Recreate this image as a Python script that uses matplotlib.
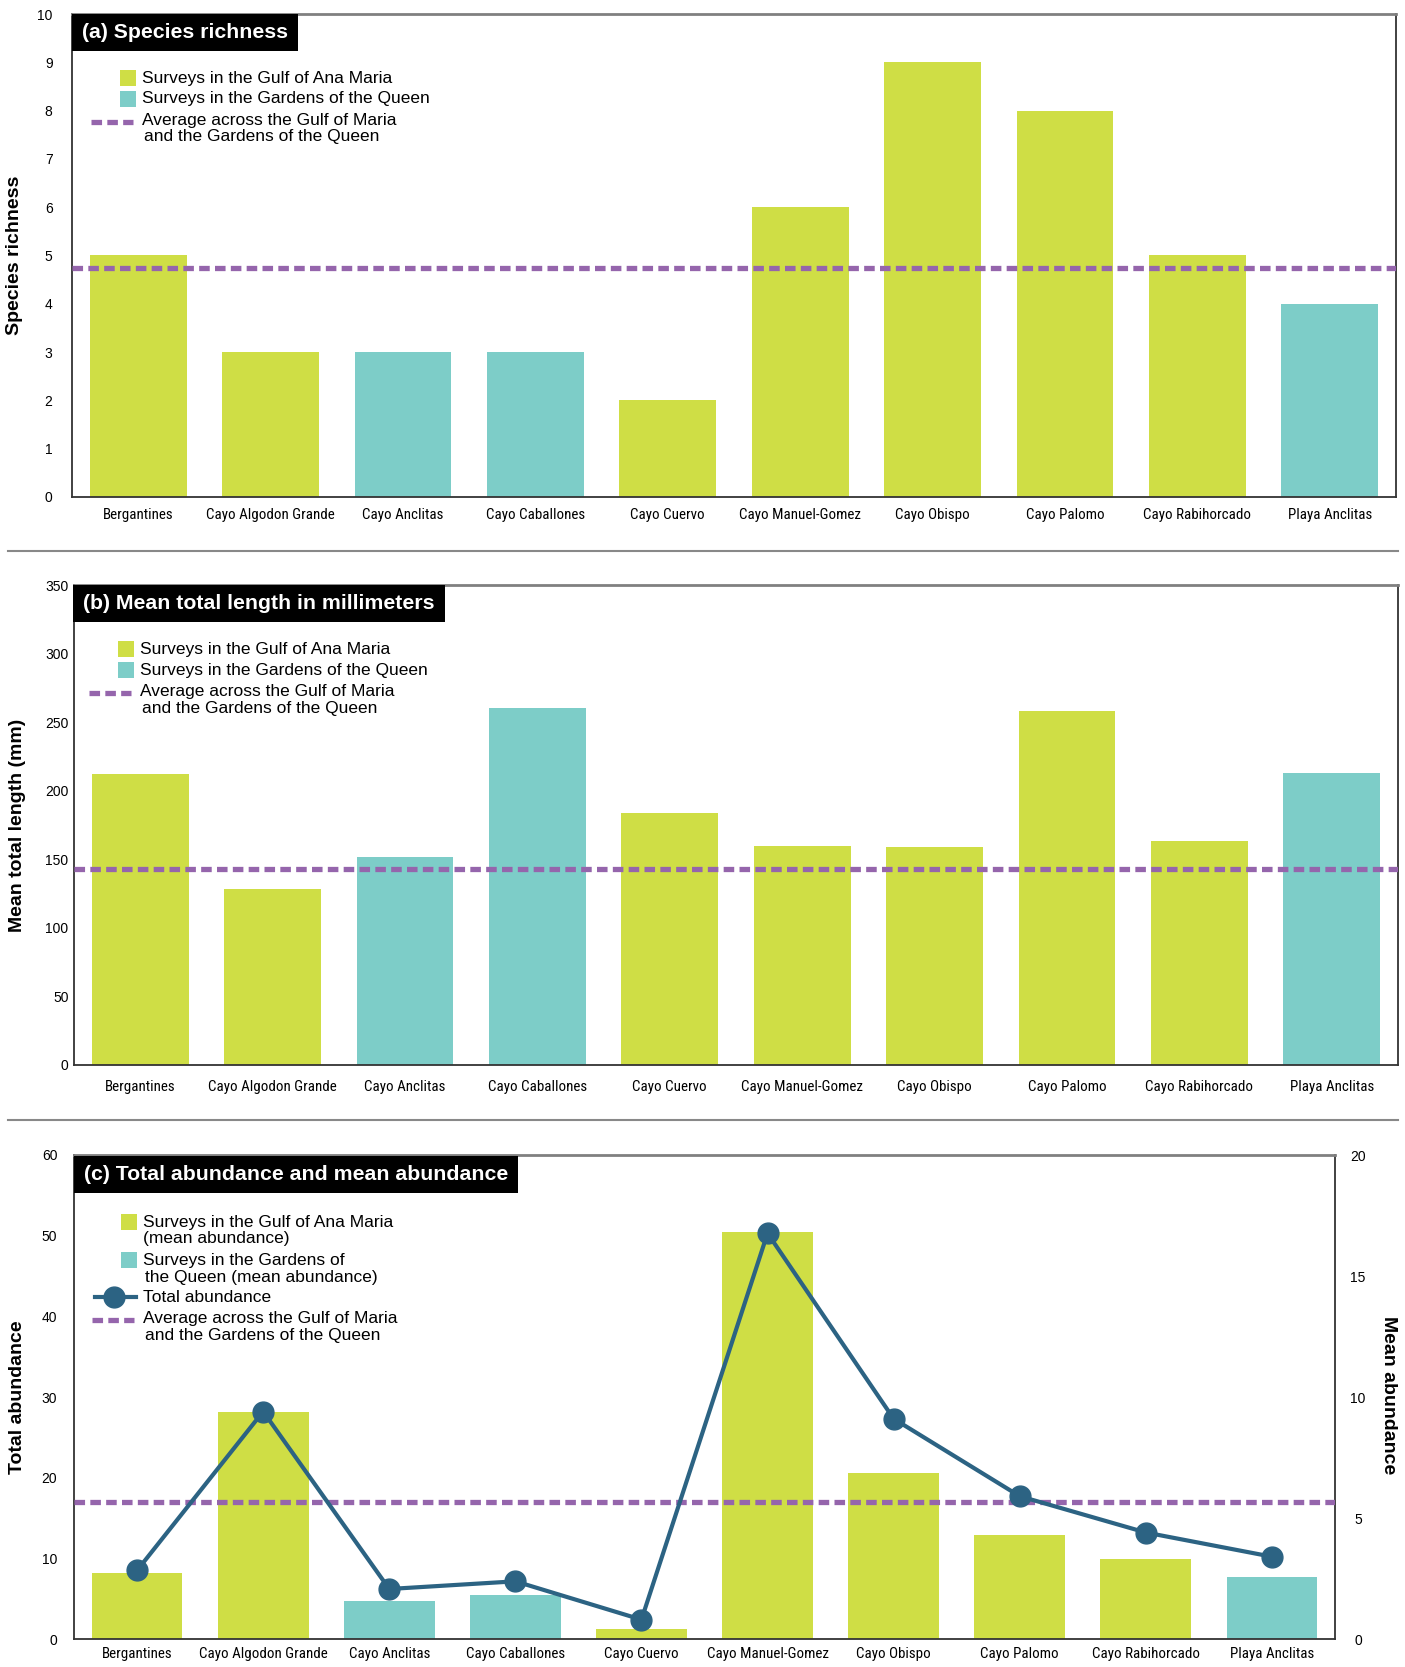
import numpy as np
import matplotlib
matplotlib.use("Agg")
import matplotlib.pyplot as plt
from matplotlib import font_manager
from matplotlib.patches import Rectangle
from matplotlib.lines import Line2D

plt.rcParams['font.family'] = ['Liberation Sans', 'DejaVu Sans']

# condensed face for the site names if one is installed, else a smaller regular face
_installed = {f.name for f in font_manager.fontManager.ttflist}
NARROW, NARROW_SIZE = ['Liberation Sans', 'DejaVu Sans'], 9.8
for _name in ['Liberation Sans Narrow', 'Roboto Condensed', 'Open Sans Condensed']:
    if _name in _installed:
        NARROW, NARROW_SIZE = [_name, 'DejaVu Sans'], 10.8
        break

# ---- data ----
sites = ['Bergantines', 'Cayo Algodon Grande', 'Cayo Anclitas', 'Cayo Caballones',
         'Cayo Cuervo', 'Cayo Manuel-Gomez', 'Cayo Obispo', 'Cayo Palomo',
         'Cayo Rabihorcado', 'Playa Anclitas']
region = ['gulf', 'gulf', 'garden', 'garden', 'gulf', 'gulf', 'gulf', 'gulf', 'gulf', 'garden']

richness = [5, 3, 3, 3, 2, 6, 9, 8, 5, 4]
richness_avg = 4.75

length_mm = [212, 128, 152, 260, 184, 160, 159, 258, 163, 213]
length_avg = 143

mean_abund = [2.74, 9.4, 1.59, 1.81, 0.4, 16.8, 6.84, 4.28, 3.31, 2.56]
total_abund = [8.5, 28.2, 6.2, 7.15, 2.4, 50.3, 27.3, 17.7, 13.2, 10.2]
abund_avg = 17.0

# ---- style ----
W, H = 1405, 1667
LIME = '#CFDE45'
TEAL = '#7DCDC8'
PURPLE = '#9565AC'
NAVY = '#2C6383'
bar_colors = [LIME if r == 'gulf' else TEAL for r in region]
x = np.arange(len(sites))

fig = plt.figure(figsize=(W / 100, H / 100), dpi=100)


def fx(px):
    return px / W


def fy(py):
    return 1 - py / H


def add_axes(l, t, r, b):
    return fig.add_axes([fx(l), fy(b), (r - l) / W, (b - t) / H])


def style(ax, xpad, ypad):
    ax.set_xlim(-0.5, 9.5)
    ax.set_xticks(x)
    ax.set_xticklabels(sites, family=NARROW, fontsize=NARROW_SIZE)
    ax.tick_params(axis='both', length=0)
    ax.tick_params(axis='x', pad=xpad)
    ax.tick_params(axis='y', pad=ypad, labelsize=10)
    for s in ['left', 'bottom', 'right']:
        ax.spines[s].set_color('#333333')
        ax.spines[s].set_linewidth(1.3)
    ax.spines['top'].set_color('#808080')
    ax.spines['top'].set_linewidth(2)


def title_box(left, top, text):
    t = fig.text(fx(left + 10), fy(top + 18.5), text, color='white', fontsize=15.3,
                 fontweight='bold', ha='left', va='center', zorder=11)
    fig.canvas.draw()
    bb = t.get_window_extent()
    right = bb.x1 + 10
    fig.add_artist(Rectangle((fx(left), fy(top + 37)), (right - left) / W, 37 / H,
                             transform=fig.transFigure, facecolor='black',
                             edgecolor='none', zorder=10))


def legend_text(xp, yp, s):
    fig.text(fx(xp), fy(yp), s, fontsize=12.5, ha='left', va='center', zorder=11)


def legend_square(x0, yp, color):
    fig.add_artist(Rectangle((fx(x0), fy(yp + 8)), 16 / W, 16 / H,
                             transform=fig.transFigure, facecolor=color,
                             edgecolor='none', zorder=11))


def legend_dash(x0, x1, yp):
    fig.add_artist(Line2D([fx(x0), fx(x1)], [fy(yp), fy(yp)], transform=fig.transFigure,
                          color=PURPLE, lw=3.8, dashes=(2.0, 1.0), zorder=11))


def avg_line(ax, val):
    ax.axhline(val, color=PURPLE, lw=3.8, dashes=(2.0, 1.0), zorder=3)


# ==========================
# (a) Species richness
# ==========================
axA = add_axes(72, 14, 1396, 497)
axA.bar(x, richness, width=0.73, color=bar_colors, zorder=2)
avg_line(axA, richness_avg)
axA.set_ylim(0, 10)
axA.set_yticks(range(0, 11))
style(axA, xpad=8, ypad=14)
fig.text(fx(15), fy(255), 'Species richness', rotation=90, fontsize=14,
         fontweight='bold', ha='center', va='center')
title_box(72, 14, '(a) Species richness')
top = 14
legend_square(120, top + 64, LIME)
legend_text(142, top + 64, 'Surveys in the Gulf of Ana Maria')
legend_square(120, top + 85, TEAL)
legend_text(142, top + 85, 'Surveys in the Gardens of the Queen')
legend_dash(91, 133, top + 108)
legend_text(142, top + 106, 'Average across the Gulf of Maria')
legend_text(144, top + 123, 'and the Gardens of the Queen')

# ==========================
# (b) Mean total length
# ==========================
axB = add_axes(74, 585, 1398, 1065)
axB.bar(x, length_mm, width=0.73, color=bar_colors, zorder=2)
avg_line(axB, length_avg)
axB.set_ylim(0, 350)
axB.set_yticks(range(0, 351, 50))
style(axB, xpad=11, ypad=4)
fig.text(fx(18), fy(825), 'Mean total length (mm)', rotation=90, fontsize=14,
         fontweight='bold', ha='center', va='center')
title_box(73, 585, '(b) Mean total length in millimeters')
top = 585
legend_square(118, top + 64, LIME)
legend_text(140, top + 64, 'Surveys in the Gulf of Ana Maria')
legend_square(118, top + 85, TEAL)
legend_text(140, top + 85, 'Surveys in the Gardens of the Queen')
legend_dash(89, 131, top + 108)
legend_text(140, top + 106, 'Average across the Gulf of Maria')
legend_text(142, top + 123, 'and the Gardens of the Queen')

# ==========================
# (c) Total and mean abundance
# ==========================
axC = add_axes(74, 1155, 1335, 1639)
axR = axC.twinx()
axR.bar(x, mean_abund, width=0.72, color=bar_colors, zorder=2)
axR.set_ylim(0, 20)
axR.set_yticks(range(0, 21, 5))
axR.tick_params(axis='y', length=0, pad=16.5, labelsize=10)
for lab in axR.get_yticklabels():
    lab.set_horizontalalignment('center')
for s in axR.spines.values():
    s.set_visible(False)

axC.set_zorder(axR.get_zorder() + 1)
axC.patch.set_visible(False)
avg_line(axC, abund_avg)
axC.plot(x, total_abund, color=NAVY, lw=3, marker='o', ms=15, zorder=4)
axC.set_ylim(0, 60)
axC.set_yticks(range(0, 61, 10))
style(axC, xpad=6, ypad=12)
axR.set_xlim(-0.5, 9.5)

fig.text(fx(18), fy(1397), 'Total abundance', rotation=90, fontsize=14,
         fontweight='bold', ha='center', va='center')
fig.text(fx(1388), fy(1395), 'Mean abundance', rotation=270, fontsize=14,
         fontweight='bold', ha='center', va='center')
title_box(74, 1156, '(c) Total abundance and mean abundance')
top = 1155
legend_square(121, top + 67, LIME)
legend_text(143, top + 67, 'Surveys in the Gulf of Ana Maria')
legend_text(143, top + 83, '(mean abundance)')
legend_square(121, top + 105, TEAL)
legend_text(143, top + 105, 'Surveys in the Gardens of')
legend_text(145, top + 122, 'the Queen (mean abundance)')
fig.add_artist(Line2D([fx(95), fx(136)], [fy(top + 142), fy(top + 142)],
                      transform=fig.transFigure, color=NAVY, lw=3, zorder=11))
fig.add_artist(Line2D([fx(114)], [fy(top + 142)], transform=fig.transFigure,
                      color=NAVY, marker='o', ms=15, zorder=12))
legend_text(143, top + 142, 'Total abundance')
legend_dash(92, 134, top + 165)
legend_text(143, top + 163, 'Average across the Gulf of Maria')
legend_text(145, top + 180, 'and the Gardens of the Queen')

# separators between panels
for yp in [551, 1120]:
    fig.add_artist(Line2D([fx(8), fx(1398)], [fy(yp), fy(yp)], transform=fig.transFigure,
                          color='#888888', lw=1.5))

fig.savefig('out.png', dpi=100)
plt.close(fig)
